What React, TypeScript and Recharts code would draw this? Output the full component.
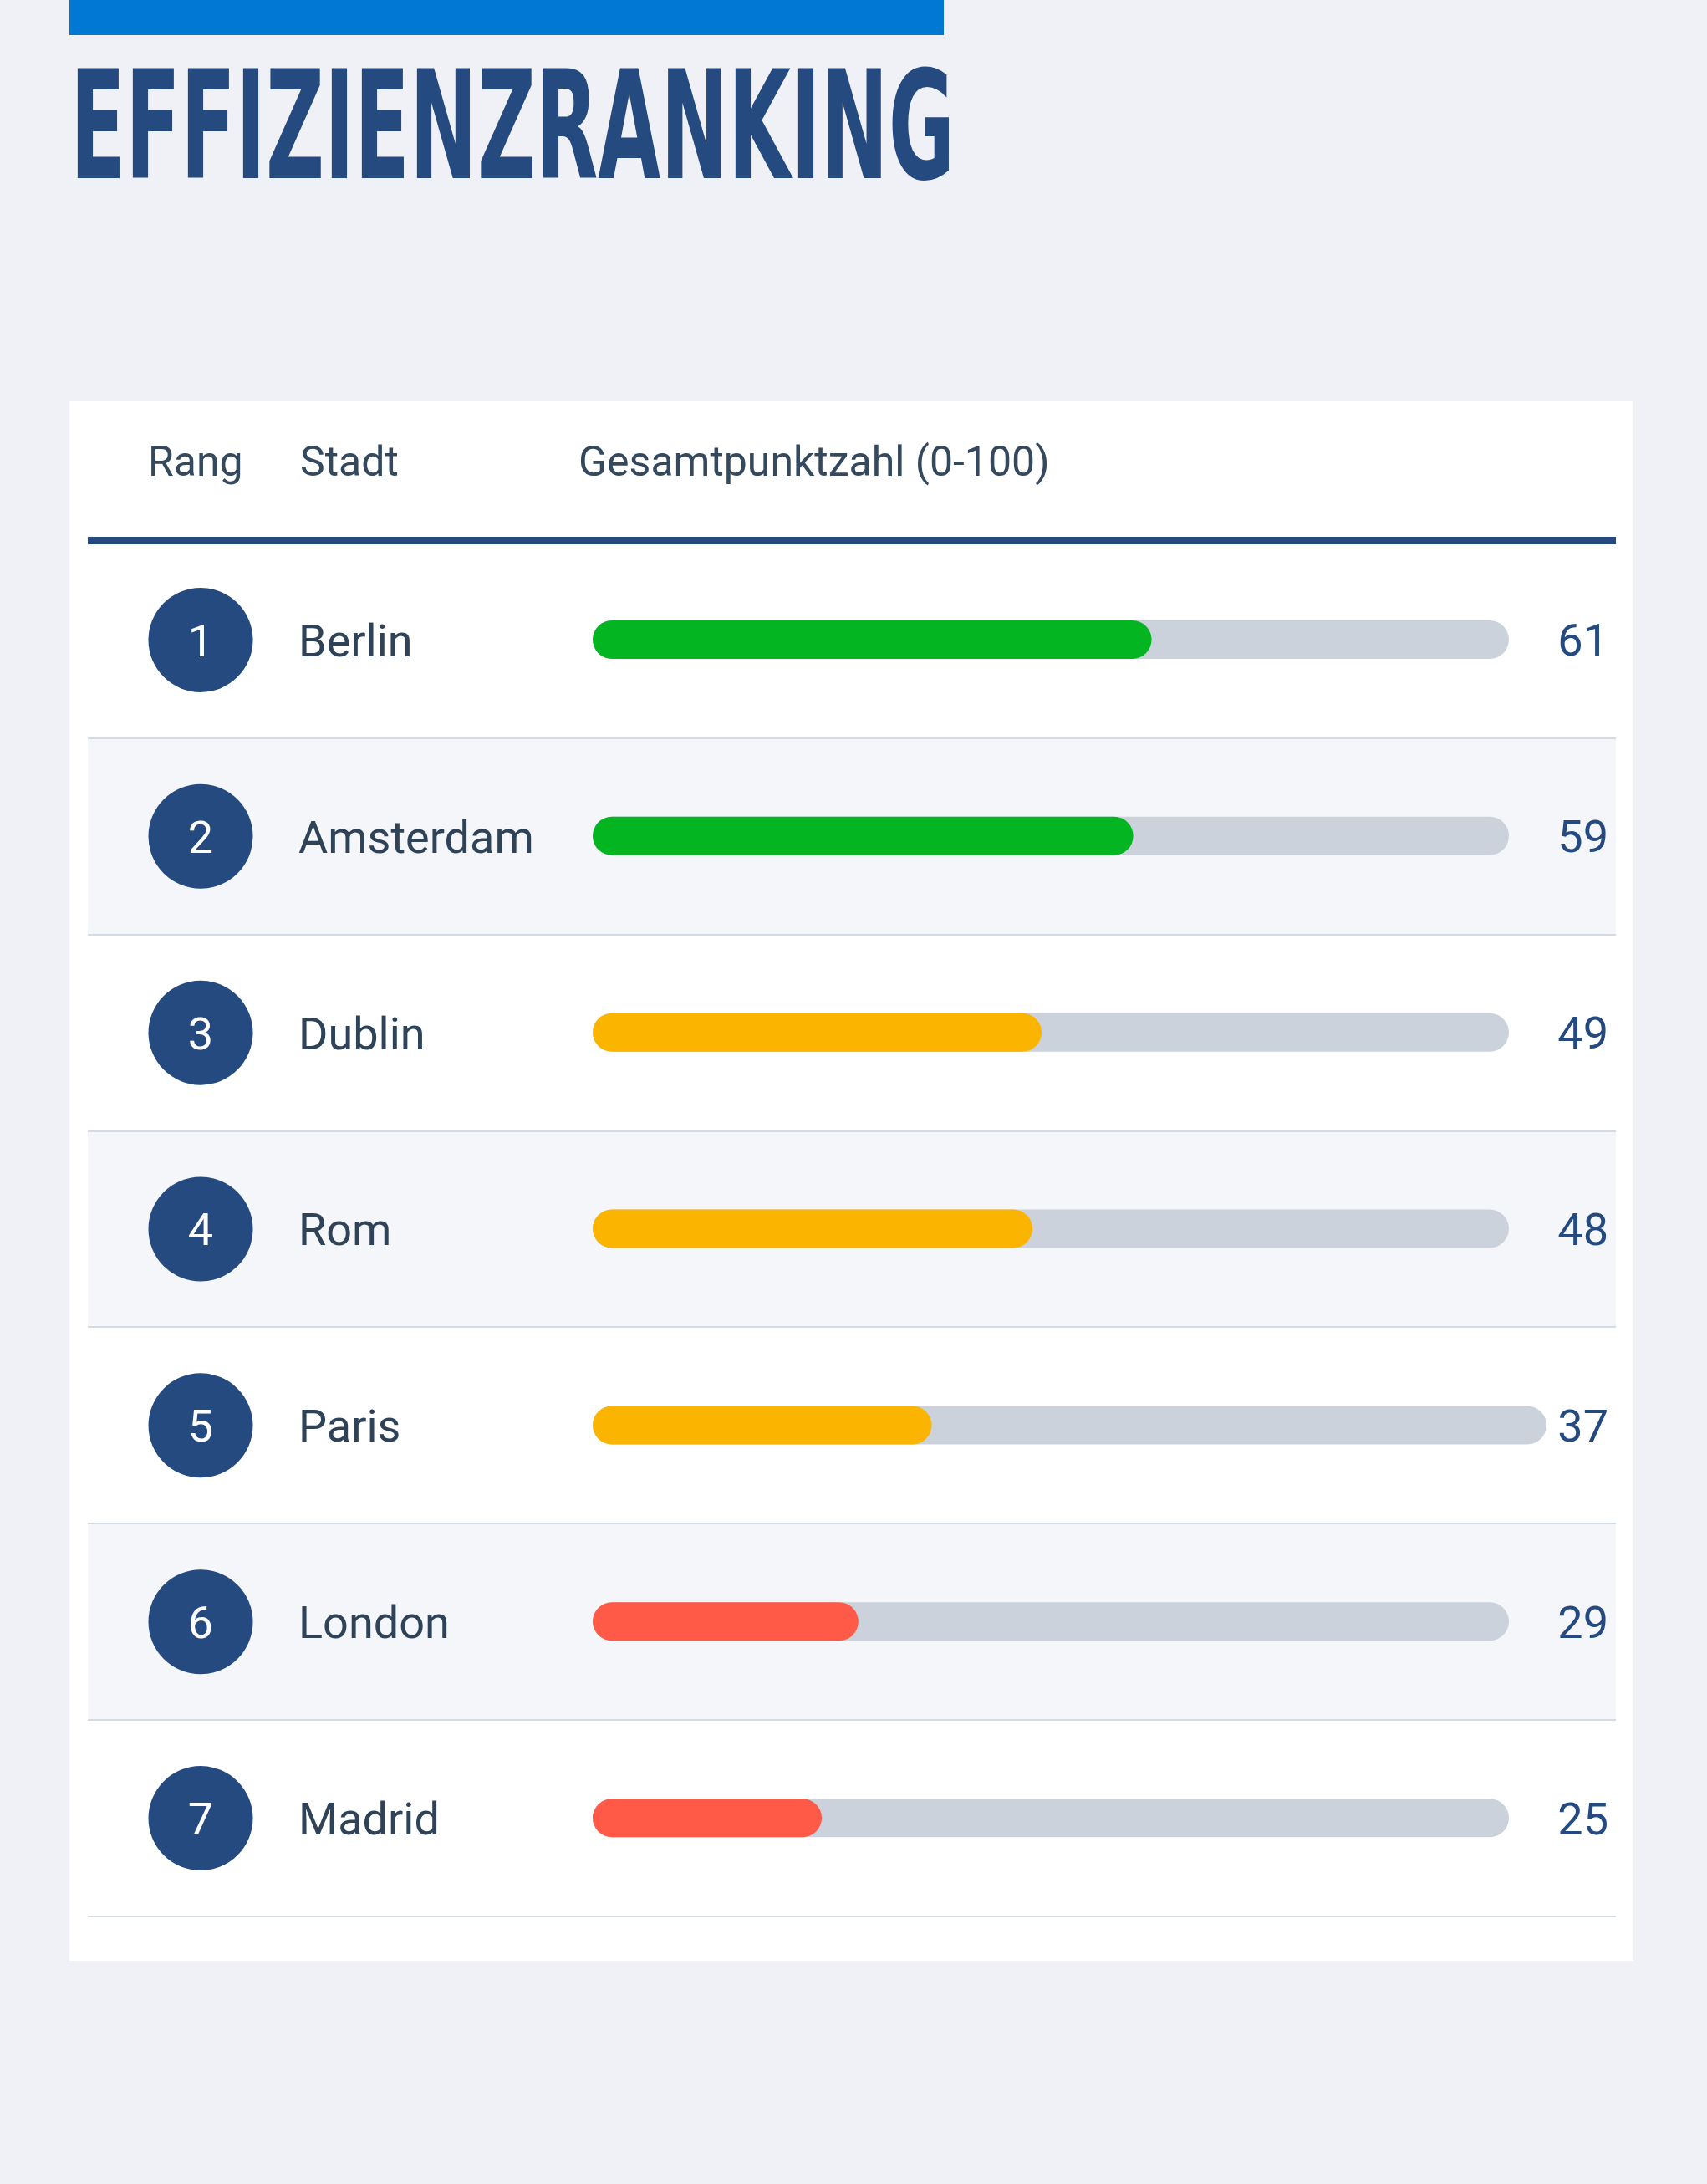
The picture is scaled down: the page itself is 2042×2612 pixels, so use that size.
import { BarChart, Bar, XAxis, YAxis, CartesianGrid, Cell, LabelList } from 'recharts';

const ranks = [1, 2, 3, 4, 5, 6, 7];
const cities = ['Berlin', 'Amsterdam', 'Dublin', 'Rom', 'Paris', 'London', 'Madrid'];
const scores = [61, 59, 49, 48, 37, 29, 25];

const data = cities.map((city, i) => ({ city, rank: ranks[i], score: scores[i] }));

const NAVY = '#254a80';
const TEXT = '#2f4358';
const TRACK = '#cbd2dc';

// chart sits over the white card
const CARD_LEFT = 83;
const CARD_TOP = 480;
const CHART_W = 1871;
const CHART_H = 1865;
const MARGIN = { top: 168, right: 149, bottom: 53, left: 0 };
const AXIS_W = 626;
const VALUE_X = 1841;
// the Paris track is drawn a bit longer in the original
const trackExtra: Record<string, number> = { Paris: 45 };

function scoreColor(v: number) {
  if (v >= 55) return '#02b521';
  if (v >= 35) return '#fbb400';
  return '#ff5a47';
}

function Track(props: any) {
  const { x, y, width, height, index } = props;
  const w = width + (trackExtra[cities[index]] || 0);
  return <rect x={x} y={y} width={w} height={height} rx={height / 2} ry={height / 2} fill={TRACK} />;
}

function CityTick(props: any) {
  const { y, payload } = props;
  const i = payload.index;
  return (
    <g>
      <circle cx={157} cy={y} r={62.5} fill={NAVY} />
      <text x={157} y={y} dy="0.36em" textAnchor="middle" fill="#ffffff" fontSize={54} fontFamily="Roboto">
        {ranks[i]}
      </text>
      <text x={274} y={y} dy="0.36em" textAnchor="start" fill={TEXT} fontSize={54} fontFamily="Roboto">
        {payload.value}
      </text>
    </g>
  );
}

function ValueLabel(props: any) {
  const { y, height, value } = props;
  return (
    <text x={VALUE_X} y={y + height / 2} dy="0.36em" textAnchor="end" fill={NAVY} fontSize={54} fontFamily="Roboto">
      {value}
    </text>
  );
}

export default function App() {
  const n = cities.length;
  return (
    <div style={{ position: 'absolute', left: 0, top: 0, width: 2042, height: 2612, background: '#eff1f6', fontFamily: 'Roboto' }}>
      <div style={{ position: 'absolute', left: 83, top: 0, width: 1046, height: 42, background: '#0078d4' }} />
      <svg style={{ position: 'absolute', left: 0, top: 0 }} width={2042} height={280}>
        <text
          x={84}
          y={213}
          fontSize={180}
          fontWeight="bold"
          fontFamily="'DejaVu Sans Condensed', 'DejaVu Sans', sans-serif"
          fill={NAVY}
          textLength={1058}
          lengthAdjust="spacingAndGlyphs"
        >
          EFFIZIENZRANKING
        </text>
      </svg>

      <div style={{ position: 'absolute', left: CARD_LEFT, top: CARD_TOP, width: CHART_W, height: CHART_H, background: '#ffffff' }}>
        <BarChart width={CHART_W} height={CHART_H} data={data} layout="vertical" margin={MARGIN}>
          <CartesianGrid
            vertical={false}
            x={22}
            width={1828}
            stroke="#d5dbe5"
            strokeWidth={2}
            horizontalFill={['#ffffff', '#f4f6fa']}
            horizontalCoordinatesGenerator={() => {
              const plotH = CHART_H - MARGIN.top - MARGIN.bottom;
              return Array.from({ length: n + 1 }, (_, i) => Math.round(MARGIN.top + (i * plotH) / n));
            }}
          />
          <XAxis type="number" domain={[0, 100]} hide />
          <YAxis
            type="category"
            dataKey="city"
            width={AXIS_W}
            axisLine={false}
            tickLine={false}
            interval={0}
            tick={<CityTick />}
          />
          <Bar dataKey="score" barSize={46} radius={23} background={<Track />} isAnimationActive={false}>
            {data.map((d) => (
              <Cell key={d.city} fill={scoreColor(d.score)} />
            ))}
            <LabelList dataKey="score" content={<ValueLabel />} />
          </Bar>
        </BarChart>

        <div style={{ position: 'absolute', left: 22, top: 162, width: 1828, height: 9, background: NAVY }} />
        <div style={{ position: 'absolute', left: 0, top: 0, width: '100%', fontSize: 50, color: '#34495e' }}>
          <span style={{ position: 'absolute', left: 94, top: 43 }}>Rang</span>
          <span style={{ position: 'absolute', left: 276, top: 43 }}>Stadt</span>
          <span style={{ position: 'absolute', left: 609, top: 43 }}>Gesamtpunktzahl (0-100)</span>
        </div>
      </div>
    </div>
  );
}
